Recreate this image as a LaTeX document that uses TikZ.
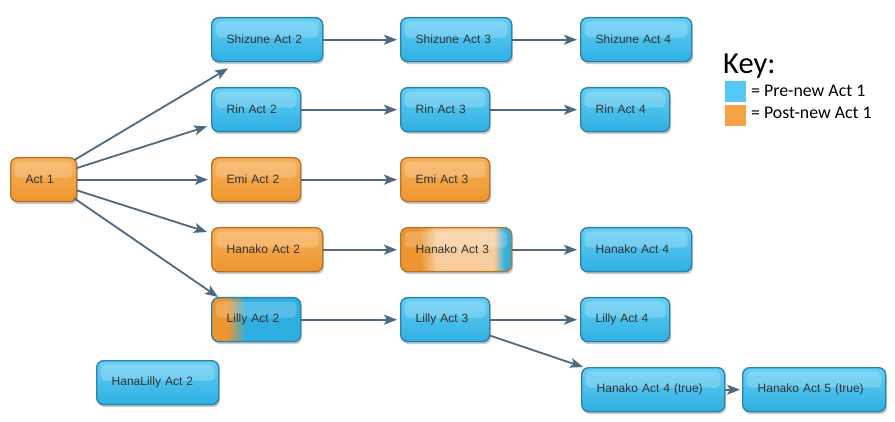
\documentclass[tikz,border=0pt]{standalone}
\usepackage{fontspec}
\setmainfont{Liberation Sans}
\newfontfamily\keyfont{Carlito}
\usetikzlibrary{arrows.meta,shadows,calc}
\definecolor{blT}{HTML}{66CFF5}
\definecolor{blB}{HTML}{2DAFE2}
\definecolor{blD}{HTML}{2E83A8}
\definecolor{orT}{HTML}{F8B05A}
\definecolor{orB}{HTML}{EE952F}
\definecolor{orD}{HTML}{B5762C}
\definecolor{conC}{HTML}{4F6A80}
\definecolor{txt}{HTML}{333333}
\definecolor{paleO}{HTML}{F8CD9E}
\definecolor{keyB}{HTML}{55C8F5}
\definecolor{keyO}{HTML}{F5A245}
\pgfdeclarehorizontalshading{lillysh}{100bp}{color(0bp)=(orB); color(34bp)=(orB); color(44bp)=(blB); color(100bp)=(blB)}
\pgfdeclarehorizontalshading{hanash}{100bp}{color(0bp)=(orB); color(34bp)=(orB); color(41bp)=(paleO); color(67bp)=(paleO); color(72bp)=(blB); color(100bp)=(blB)}
\tikzset{
  act/.style={rounded corners=7pt, draw, line width=1.4pt, minimum height=44pt,
    inner xsep=15pt, inner ysep=0pt, anchor=north west, align=left,
    font=\fontsize{12}{14}\selectfont, text=txt,
    drop shadow={shadow xshift=1.5pt, shadow yshift=-2.5pt, opacity=0.2, fill=black},
    path picture={\fill[white,fill opacity=0.2,rounded corners=5pt]
      ($(path picture bounding box.north west)+(4pt,-4pt)$) rectangle
      ($(path picture bounding box.east)+(-4pt,2pt)$);}},
  bluebox/.style={act, draw=blD, top color=blT, bottom color=blB},
  orangebox/.style={act, draw=orD, top color=orT, bottom color=orB},
  lillybox/.style={act, draw=blD, shading=lillysh},
  hanabox/.style={act, draw=orD, shading=hanash},
  wA/.style={text width=36pt},
  wS/.style={text width=59pt},
  wL/.style={text width=81pt},
  wH/.style={text width=92pt},
  wT/.style={text width=113pt},
  conn/.style={draw=conC, line width=1.8pt, -{Stealth[length=13pt,width=10pt,inset=3pt]}},
  keysq/.style={minimum width=21pt, minimum height=21pt, inner sep=0pt, anchor=north west},
  keytxt/.style={anchor=base west, inner sep=0pt, font=\keyfont\fontsize{17.8}{20}\selectfont, text=black}
}
\begin{document}
\begin{tikzpicture}[x=1pt,y=-1pt]
\useasboundingbox (0,0) rectangle (895,422);
\node[orangebox,wA] (act1) at (10,157) {Act 1};
\node[bluebox,wL] (shz2) at (211,17) {Shizune Act 2};
\node[bluebox,wL] (shz3) at (400,17) {Shizune Act 3};
\node[bluebox,wL] (shz4) at (580,17) {Shizune Act 4};
\node[bluebox,wS] (rin2) at (211,87) {Rin Act 2};
\node[bluebox,wS] (rin3) at (400,87) {Rin Act 3};
\node[bluebox,wS] (rin4) at (580,87) {Rin Act 4};
\node[orangebox,wS] (emi2) at (211,157) {Emi Act 2};
\node[orangebox,wS] (emi3) at (400,157) {Emi Act 3};
\node[orangebox,wL] (han2) at (211,227) {Hanako Act 2};
\node[hanabox,wL] (han3) at (400,227) {Hanako Act 3};
\node[bluebox,wL] (han4) at (580,227) {Hanako Act 4};
\node[lillybox,wS] (lil2) at (211,297) {Lilly Act 2};
\node[bluebox,wS] (lil3) at (400,297) {Lilly Act 3};
\node[bluebox,wS] (lil4) at (580,297) {Lilly Act 4};
\node[bluebox,wH] (hl2) at (96,360) {HanaLilly Act 2};
\node[bluebox,wT] (h4t) at (581,367) {Hanako Act 4 (true)};
\node[bluebox,wT] (h5t) at (742,367) {Hanako Act 5 (true)};

\draw[conn] ($(act1.north east)+(-3,3)$) -- ($(shz2.south west)+(17,6)$);
\draw[conn] ($(act1.east)+(-1,-11.5)$) -- ($(rin2.south west)+(-4,-6)$);
\draw[conn,shorten >=3pt] (act1.east) -- (emi2.west);
\draw[conn] ($(act1.east)+(-1,10.5)$) -- ($(han2.north west)+(-4,5)$);
\draw[conn] ($(act1.south east)+(-3,-4)$) -- ($(lil2.north west)+(7,0)$);
\draw[conn,shorten >=3pt] (shz2.east) -- (shz3.west);
\draw[conn,shorten >=3pt] (shz3.east) -- (shz4.west);
\draw[conn,shorten >=3pt] (rin2.east) -- (rin3.west);
\draw[conn,shorten >=3pt] (rin3.east) -- (rin4.west);
\draw[conn,shorten >=3pt] (emi2.east) -- (emi3.west);
\draw[conn,shorten >=3pt] (han2.east) -- (han3.west);
\draw[conn,shorten >=3pt] (han3.east) -- (han4.west);
\draw[conn,shorten >=3pt] (lil2.east) -- (lil3.west);
\draw[conn,shorten >=3pt] (lil3.east) -- (lil4.west);
\draw[conn] ($(lil3.south east)+(-1,-7)$) -- ($(h4t.north west)+(2,0)$);
\draw[conn,shorten >=2pt] (h4t.east) -- (h5t.west);

\node[anchor=base west, inner sep=0pt, font=\keyfont\fontsize{30.5}{32}\selectfont] (key) at (723,74) {Key:};
\node[keysq, fill=keyB] (kb) at (725,81) {};
\node[keysq, fill=keyO] (ko) at (725,105) {};
\node[keytxt] (kbt) at (751,97) {= Pre-new Act 1};
\node[keytxt] (kot) at (751,119) {= Post-new Act 1};
\end{tikzpicture}
\end{document}
